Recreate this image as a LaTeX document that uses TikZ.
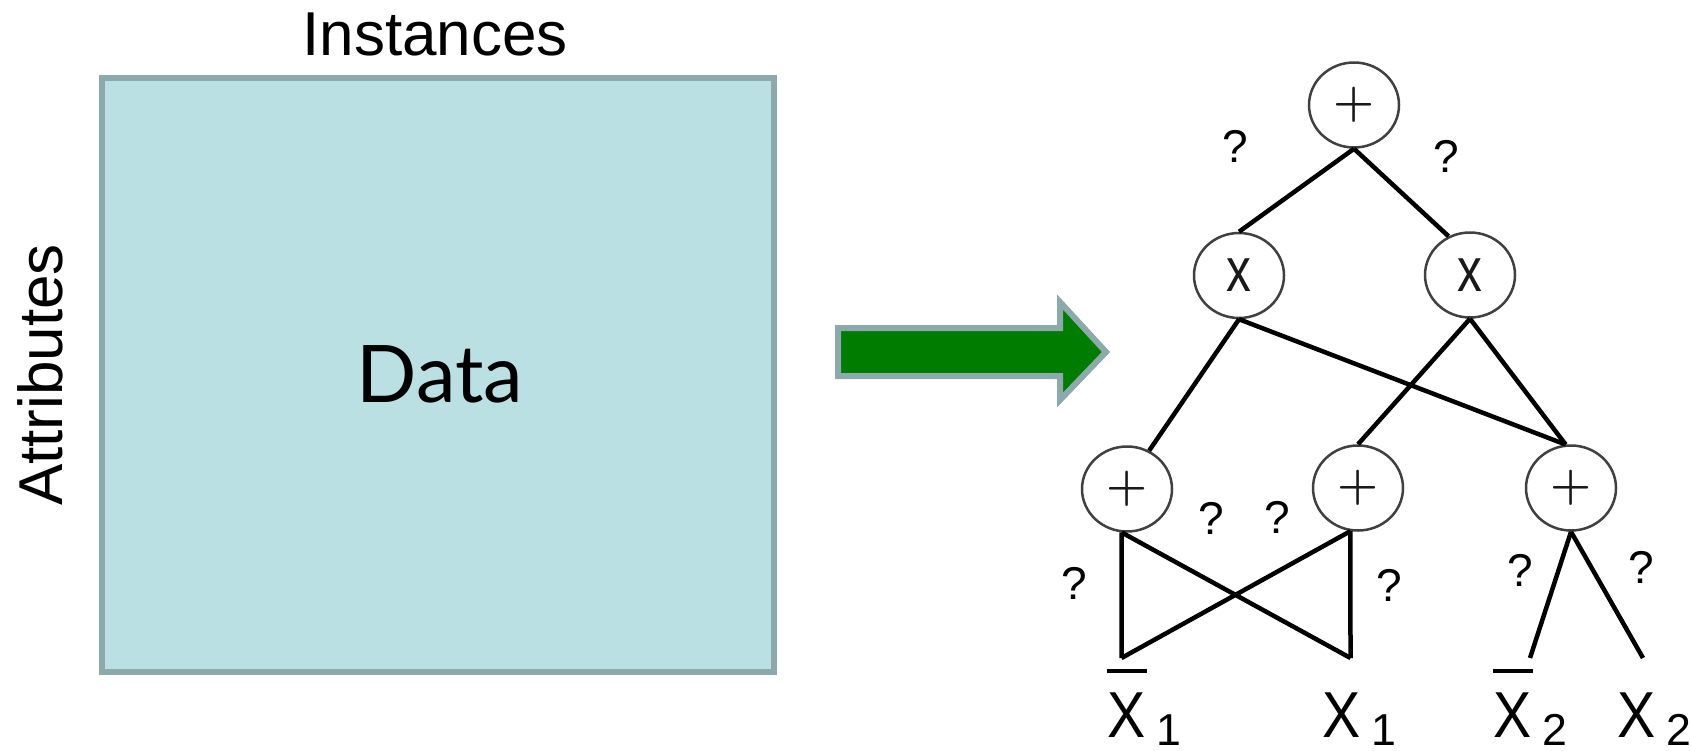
\documentclass[tikz,border=0pt]{standalone}
\usepackage{graphicx}
\usepackage{fontspec}
\setmainfont{Liberation Sans}
\newfontfamily\datafont{Lato}
\newfontfamily\lmfont{Latin Modern Roman}
\usetikzlibrary{shapes.geometric}
\definecolor{boxfill}{HTML}{BBE0E3}
\definecolor{boxline}{HTML}{8CA9AB}
\definecolor{arrowgreen}{HTML}{007C00}
\newcommand\leafsub[1]{\kern11pt\raisebox{-8pt}{\fontsize{44.7}{44.7}\selectfont #1}}
\newcommand\leafX{\scalebox{0.88}[1]{X}}
\newcommand\leafbar{\rlap{\rule[64pt]{40pt}{4pt}}}
\newcommand\plussym{{\lmfont\bfseries\fontsize{47}{47}\selectfont +}}
\newcommand\timessym{\scalebox{0.8}[1]{\fontsize{62}{62}\selectfont x}}
\begin{document}
\begin{tikzpicture}[x=1pt,y=-1pt,
  opnode/.style={ellipse,draw=black!75,line width=2.5pt,minimum width=90pt,
    minimum height=85pt,inner sep=0pt,fill=white,text=black!90},
  treeedge/.style={line width=4.5pt,black},
  qmark/.style={inner sep=0pt,font=\fontsize{46}{46}\selectfont},
  leaf/.style={inner sep=0pt,anchor=base west,font=\fontsize{65}{65}\selectfont},
  bigtext/.style={inner sep=0pt,font=\fontsize{62}{62}\selectfont}]
\useasboundingbox (0,0) rectangle (1691,750);

% left part
\node[bigtext,anchor=base] (inst) at (435,55) {Instances};
\node[draw=boxline,fill=boxfill,line width=5.5pt,minimum width=672pt,
  minimum height=594pt,inner sep=0pt] (databox) at (438,375) {};
\node[inner sep=0pt,anchor=base,font=\datafont\fontsize{79.5}{79.5}\selectfont] (datalabel) at (440,402) {Data};
\node[bigtext,rotate=90,anchor=base] (attr) at (62,375) {Attributes};

% arrow
\draw[line width=6pt,draw=boxline,fill=arrowgreen,line join=miter]
  (838,328) -- (1060,328) -- (1060,302) -- (1106,352) -- (1060,400)
  -- (1060,376) -- (838,376) -- cycle;

% tree nodes
\node[opnode] (top) at (1354,105) {\plussym};
\node[opnode] (lx) at (1239,275.5) {\timessym};
\node[opnode] (rx) at (1470,275) {\timessym};
\node[opnode] (bl) at (1127,489) {\plussym};
\node[opnode] (bm) at (1358,488) {\plussym};
\node[opnode] (br) at (1571,488) {\plussym};

% leaf tops
\coordinate (t1) at (1121.5,658);
\coordinate (t2) at (1350.5,658);
\coordinate (t3) at (1530,658);
\coordinate (t4) at (1643,658);

% edges
\draw[treeedge] (top.south) -- (lx.north);
\draw[treeedge] (top.south) -- (rx.119);
\draw[treeedge] (lx.south) -- (bl.60);
\draw[treeedge] (lx.south) -- (br.97);
\draw[treeedge] (rx.south) -- (bm.north);
\draw[treeedge] (rx.south) -- (br.97);
\draw[treeedge] (bl.263) -- (t1);
\draw[treeedge] (bl.263) -- (t2);
\draw[treeedge] (bm.260) -- (t2);
\draw[treeedge] (bm.260) -- (t1);
\draw[treeedge] (br.south) -- (t3);
\draw[treeedge] (br.south) -- (t4);

% question marks
\node[qmark] (q1) at (1235,146) {?};
\node[qmark] (q2) at (1446.5,156) {?};
\node[qmark] (q3) at (1211.5,518) {?};
\node[qmark] (q4) at (1277,517) {?};
\node[qmark] (q5) at (1074.5,583) {?};
\node[qmark] (q6) at (1389,585) {?};
\node[qmark] (q7) at (1520,570) {?};
\node[qmark] (q8) at (1640.8,567) {?};

% leaves
\node[leaf] (l1) at (1107,737) {\leafbar\leafX\leafsub{1}};
\node[leaf] (l2) at (1322,737) {\leafX\leafsub{1}};
\node[leaf] (l3) at (1493,737) {\leafbar\leafX\leafsub{2}};
\node[leaf] (l4) at (1617,737) {\leafX\leafsub{2}};
\end{tikzpicture}
\end{document}
